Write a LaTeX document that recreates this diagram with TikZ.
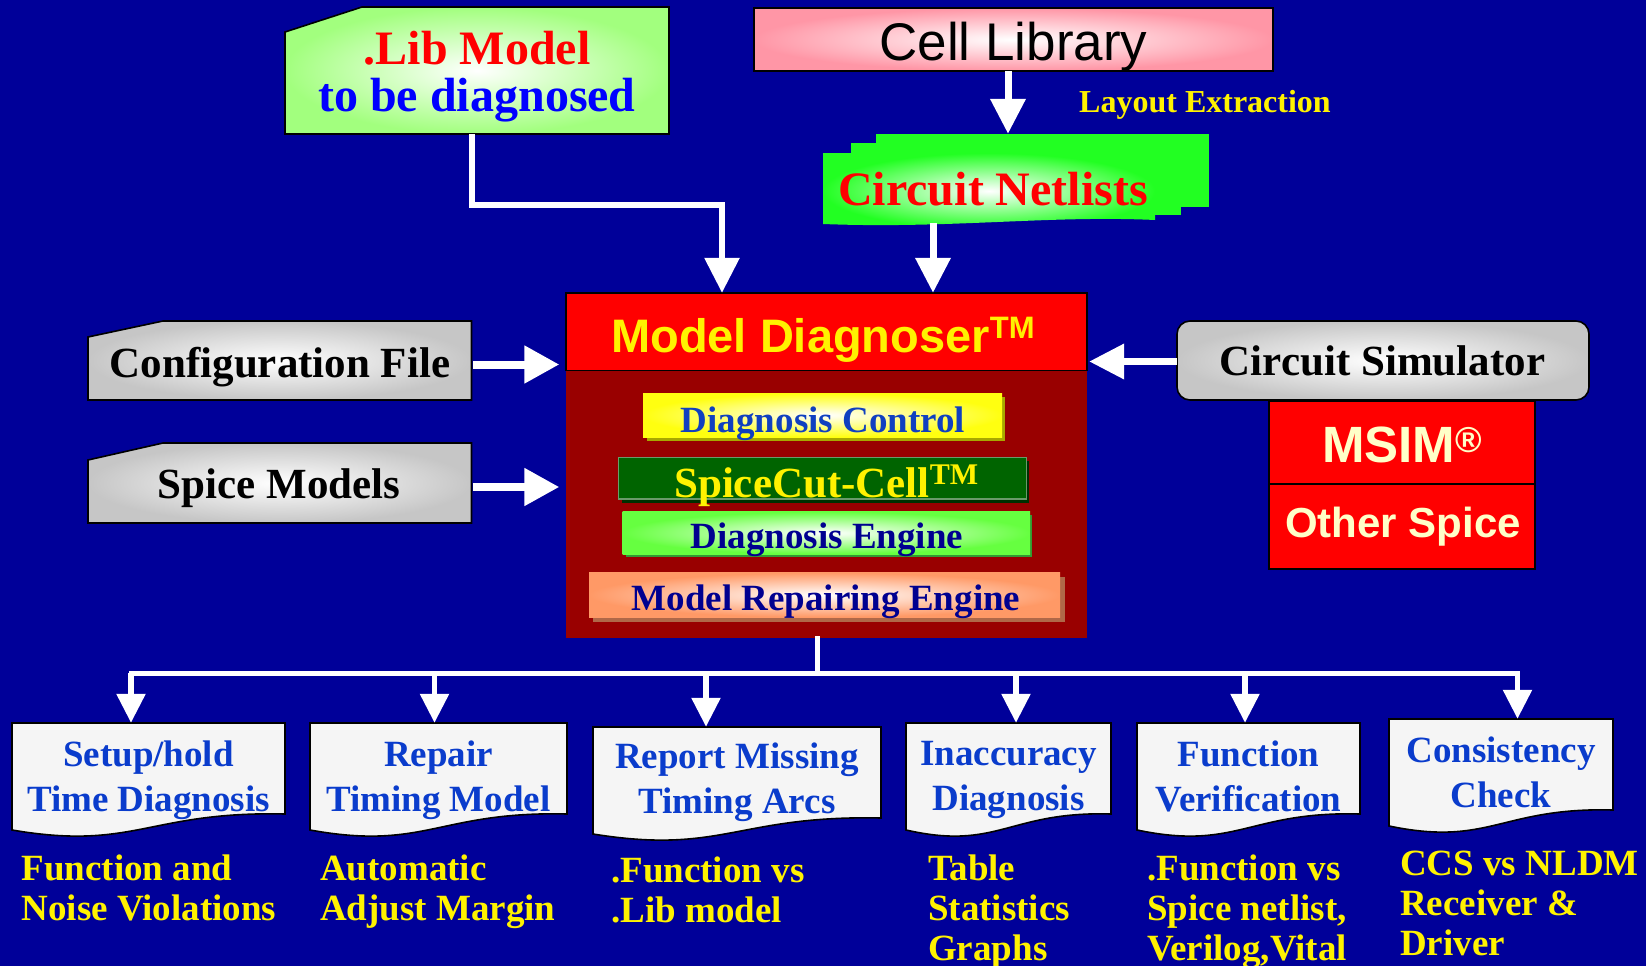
\documentclass[tikz,border=0pt]{standalone}
\usepackage{fontspec}
\setmainfont{Liberation Serif}
\newfontfamily\arialf{Liberation Sans}
\usetikzlibrary{arrows.meta,calc}
\definecolor{bgblue}{HTML}{000099}
\definecolor{libgreen}{HTML}{A2FF7E}
\definecolor{libblue}{HTML}{0000FF}
\definecolor{cellpink}{HTML}{FF96A6}
\definecolor{netgreen}{HTML}{22FF22}
\definecolor{boxgray}{HTML}{C6C6C6}
\definecolor{mdred}{HTML}{FF0000}
\definecolor{mddark}{HTML}{990000}
\definecolor{dcyellow}{HTML}{FFFF10}
\definecolor{dcshadow}{HTML}{A8A800}
\definecolor{dctext}{HTML}{1040C0}
\definecolor{scgreen}{HTML}{006400}
\definecolor{scshadow}{HTML}{003000}
\definecolor{scedge}{HTML}{6A9A6A}
\definecolor{degreen}{HTML}{66FF40}
\definecolor{deshadow}{HTML}{339933}
\definecolor{mrsalmon}{HTML}{FF9966}
\definecolor{mrshadow}{HTML}{B06848}
\definecolor{navytext}{HTML}{000090}
\definecolor{doctext}{HTML}{0A3CCC}
\definecolor{docfill}{HTML}{F5F5F5}
\definecolor{cream}{HTML}{FFFFC8}
\begin{document}
\begin{tikzpicture}[x=1pt,y=-1pt,
  region/.style={inner sep=0pt, draw=none},
  txt/.style={inner sep=0pt},
  blk/.style={draw=black, line width=1.6pt},
  tarr/.style={draw=white, line width=7pt, -{Triangle[width=34pt,length=35pt]}},
  sarr/.style={draw=white, line width=8pt, -{Triangle[width=36pt,length=35pt]}},
  darr/.style={draw=white, line width=5.5pt, -{Triangle[width=28pt,length=29pt]}},
  busline/.style={draw=white, line width=5pt, line cap=rect},
  inbox/.style={txt, anchor=base, font=\bfseries\fontsize{37}{37}\selectfont},
  sidebox/.style={txt, anchor=base, font=\bfseries\fontsize{43}{43}\selectfont},
  doct/.style={txt, anchor=north, align=center, text=doctext, font=\bfseries\fontsize{37}{45}\selectfont},
  yelt/.style={txt, anchor=north west, align=left, text=yellow, font=\bfseries\fontsize{37}{40}\selectfont},
  docshape/.style={fill=docfill, draw=black, line width=1.6pt},
]
\useasboundingbox (0,0) rectangle (1646,966);
\fill[bgblue] (0,0) rectangle (1646,966);

% .Lib model
\shadedraw[inner color=white, outer color=libgreen, blk] (285,32) -- (362,7) -- (669,7) -- (669,134) -- (285,134) -- cycle;
\node[region, minimum width=384pt, minimum height=127pt] (lib) at (477,70.5) {};
\node[txt, anchor=north, align=center, font=\bfseries\fontsize{48}{47}\selectfont] (libt) at (477,30.5) {\textcolor{red}{.Lib Model}\\\textcolor{libblue}{to be diagnosed}};

% Cell library
\shadedraw[inner color=white, outer color=cellpink, blk] (754,8) rectangle (1273,71);
\node[region, minimum width=519pt, minimum height=63pt] (cell) at (1013.5,39.5) {};
\node[txt, anchor=base, font=\arialf\fontsize{53}{53}\selectfont] (cellt) at (1013.5,60) {Cell Library};
\node[txt, anchor=base west, text=yellow, font=\bfseries\fontsize{32}{32}\selectfont] (layout) at (1079,112) {Layout Extraction};

% Circuit netlists
\fill[netgreen] (876,134) rectangle (1209,207);
\fill[netgreen] (851,143) rectangle (1181,215);
\shade[inner color=white, outer color=netgreen] (823,153) -- (1155,153) -- (1155,220) .. controls (1050,215) and (950,229) .. (823,224) -- cycle;
\node[region, minimum width=386pt, minimum height=89pt] (net) at (1016,178.5) {};
\node[txt, anchor=base west, text=red, font=\bfseries\fontsize{48}{48}\selectfont] (nett) at (838,205) {Circuit Netlists};

% Model Diagnoser
\fill[mddark] (566,370) rectangle (1087,638);
\filldraw[fill=mdred, blk] (566,293) rectangle (1087,370.5);
\node[region, minimum width=521pt, minimum height=345pt] (md) at (826.5,465.5) {};
\node[txt, anchor=base west, text=yellow, font=\arialf\bfseries\fontsize{47}{47}\selectfont] (mdt) at (611,352) {Model Diagnoser\raisebox{13.5pt}{\fontsize{31}{31}\selectfont TM}};

\fill[dcshadow] (647,397) rectangle (1005,441);
\shade[inner color=white, outer color=dcyellow] (643,393) rectangle (1002,437);
\node[inbox, text=dctext] (dc) at (823,432) {Diagnosis Control};

\fill[scshadow] (622,461) rectangle (1029,503);
\filldraw[fill=scgreen, draw=scedge, line width=1.5pt] (618.5,457.7) rectangle (1026.6,499);
\node[txt, anchor=base west, text=yellow, font=\bfseries\fontsize{43}{43}\selectfont] (sc) at (674,497) {SpiceCut-Cell\raisebox{13pt}{\fontsize{30}{30}\selectfont TM}};

\fill[deshadow] (626,515) rectangle (1032,557);
\shade[inner color=white, outer color=degreen] (622.7,511.7) rectangle (1030,554);
\node[inbox, text=navytext] (de) at (827,548) {Diagnosis Engine};

\fill[mrshadow] (593,577) rectangle (1064.5,621.7);
\shade[inner color=white, outer color=mrsalmon] (589,572.7) rectangle (1060,617);
\node[inbox, text=navytext] (mr) at (826,610) {Model Repairing Engine};

% Config and spice models
\shadedraw[inner color=white, outer color=boxgray, blk] (88,337) -- (163,321) -- (471.5,321) -- (471.5,400) -- (88,400) -- cycle;
\node[region, minimum width=383.5pt, minimum height=79pt] (cfg) at (279.75,360.5) {};
\node[sidebox] (cfgt) at (280,377) {Configuration File};
\shadedraw[inner color=white, outer color=boxgray, blk] (88,460) -- (163,443) -- (471.5,443) -- (471.5,523) -- (88,523) -- cycle;
\node[region, minimum width=383.5pt, minimum height=80pt] (spm) at (279.75,483) {};
\node[sidebox] (spmt) at (279,498) {Spice Models};

% Circuit simulator
\shadedraw[inner color=white, outer color=boxgray, blk, rounded corners=13pt] (1177,321) rectangle (1589,400);
\node[region, minimum width=412pt, minimum height=79pt] (cs) at (1383,360.5) {};
\node[sidebox] (cst) at (1382.5,375) {Circuit Simulator};
\filldraw[fill=mdred, blk] (1269,401) rectangle (1535,484);
\filldraw[fill=mdred, blk] (1269,484) rectangle (1535,569);
\node[txt, anchor=base, text=cream, font=\arialf\bfseries\fontsize{51}{51}\selectfont] (msim) at (1402,462) {MSIM\raisebox{10pt}{\fontsize{36}{36}\selectfont ®}};
\node[txt, anchor=base, text=cream, font=\arialf\bfseries\fontsize{42}{42}\selectfont] (osp) at (1403,537) {Other Spice};

% top connectors
\coordinate (libout) at ($(lib.south)+(-5.5,0)$);
\coordinate (libbend) at (722,205);
\draw[tarr, line width=6pt] (libout) |- (libbend) -- (libbend |- md.north);
\coordinate (cellout) at ($(cell.south)+(-5.5,0)$);
\draw[tarr] (cellout) -- (cellout |- net.north);
\coordinate (netout) at (933,223);
\draw[tarr] (netout) -- (netout |- md.north);
\draw[sarr] ($(cfg.east)+(1.5,4)$) -- ($(md.west |- cfg.east)+(-6.5,4)$);
\draw[sarr] ($(spm.east)+(1.5,4)$) -- ($(md.west |- spm.east)+(-6.5,4)$);
\draw[tarr] ($(cs.west)+(0,1)$) -- ($(md.east |- cs.west)+(2,1)$);

% bottom documents
\foreach \n/\xa/\ya/\xb in {b1/12/723/285, b2/310/723/567, b3/593/727/881, b4/906/723/1111, b5/1137/723/1360, b6/1389/719/1613} {
  \filldraw[docshape] (\xa,\ya) -- (\xb,\ya) -- (\xb,\ya+91) .. controls ({\xa+0.5*(\xb-\xa)},\ya+88) and ({\xa+0.45*(\xb-\xa)},\ya+128) .. (\xa,\ya+107) -- cycle;
  \node[region, minimum width={\xb-\xa}, minimum height=107pt] (\n) at ({(\xa+\xb)/2},\ya+53.5) {};
}
\node[doct] (b1t) at (148.5,741) {Setup/hold\\Time Diagnosis};
\node[doct] (b2t) at (438.5,741) {Repair\\Timing Model};
\node[doct] (b3t) at (737,743) {Report Missing\\Timing Arcs};
\node[doct] (b4t) at (1008.5,741) {Inaccuracy\\Diagnosis};
\node[doct] (b5t) at (1248.5,741) {Function\\Verification};
\node[doct] (b6t) at (1501,737) {Consistency\\Check};

% bus
\coordinate (busTop) at ($(md.south)+(-9.5,0)$);
\coordinate (busMid) at ($(busTop)+(0,35)$);
\coordinate (d1) at (131,673);
\coordinate (d2) at (434.5,673);
\coordinate (d3) at (706,673);
\coordinate (d4) at (1016,673);
\coordinate (d5) at (1245,673);
\coordinate (d6) at (1517.5,673);
\draw[busline] (busTop) -- (busMid);
\draw[busline] (d1) -- (d6);
\foreach \i in {1,...,6} { \draw[darr] (d\i) -- (d\i |- b\i.north); }

% yellow notes
\node[yelt] (y1) at (21.5,855) {Function and\\Noise Violations};
\node[yelt] (y2) at (320,855) {Automatic\\Adjust Margin};
\node[yelt] (y3) at (611,857) {.Function vs\\.Lib model};
\node[yelt] (y4) at (928,855) {Table\\Statistics\\Graphs};
\node[yelt] (y5) at (1147,855) {.Function vs\\Spice netlist,\\Verilog,Vital};
\node[yelt] (y6) at (1400,851) {CCS vs NLDM\\Receiver \&\\Driver};
\end{tikzpicture}
\end{document}
